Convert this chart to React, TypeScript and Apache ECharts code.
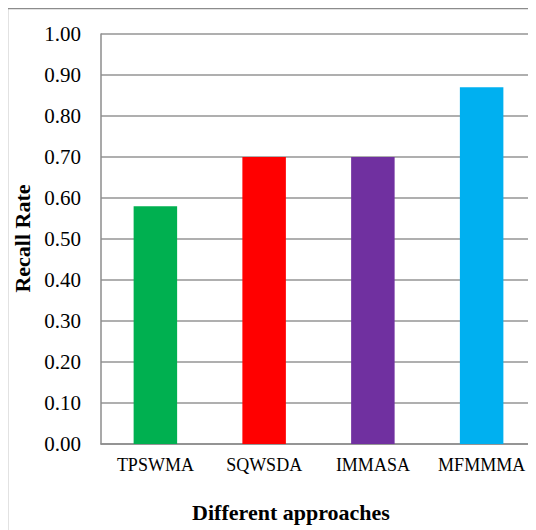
import React, { useEffect, useRef } from "react";
import * as echarts from "echarts";

const categories = ["TPSWMA", "SQWSDA", "IMMASA", "MFMMMA"];
const recallRates = [0.58, 0.70, 0.70, 0.87];
const barColors = ["#00B050", "#FF0000", "#7030A0", "#00B0F0"];
const yAxisTitle = "Recall Rate";
const xAxisTitle = "Different approaches";

const FONT = "Liberation Serif";

export default function App() {
  const ref = useRef<HTMLDivElement>(null);

  useEffect(() => {
    if (!ref.current) return;
    const chart = echarts.init(ref.current, null, { renderer: "svg" });
    chart.setOption({
      animation: false,
      backgroundColor: "#ffffff",
      textStyle: { fontFamily: FONT },
      grid: { left: 94, top: 26, width: 442, height: 410, containLabel: false },
      xAxis: {
        type: "category",
        data: categories,
        axisLine: { show: true, lineStyle: { color: "#8c8c8c", width: 1.5 } },
        axisTick: { show: false },
        axisLabel: {
          interval: 0,
          color: "#000",
          fontFamily: FONT,
          fontSize: 18,
          margin: 12,
        },
        splitLine: { show: false },
      },
      yAxis: {
        type: "value",
        min: 0,
        max: 1,
        interval: 0.1,
        axisLine: { show: true, lineStyle: { color: "#8c8c8c", width: 1.5 } },
        axisTick: { show: false },
        axisLabel: {
          color: "#000",
          fontFamily: FONT,
          fontSize: 21,
          margin: 20,
          formatter: (v: number) => v.toFixed(2),
        },
        splitLine: { show: true, lineStyle: { color: "#949494", width: 1.5 } },
      },
      series: [
        {
          type: "bar",
          data: recallRates.map((v, i) => ({ value: v, itemStyle: { color: barColors[i] } })),
          barCategoryGap: "60%",
        },
      ],
      graphic: [
        {
          type: "rect",
          silent: true,
          z: -1,
          shape: { x: 0.5, y: 0.5, width: 1000, height: 1000 },
          style: { fill: "none", stroke: "#8c8c8c", lineWidth: 1.5 },
        },
        {
          type: "text",
          x: 284,
          y: 504,
          style: {
            text: xAxisTitle,
            fontFamily: FONT,
            fontSize: 22,
            fontWeight: "bold",
            fill: "#000",
            textAlign: "center",
            textVerticalAlign: "middle",
          },
        },
        {
          type: "text",
          x: 15,
          y: 230.5,
          rotation: Math.PI / 2,
          style: {
            text: yAxisTitle,
            fontFamily: FONT,
            fontSize: 22,
            fontWeight: "bold",
            fill: "#000",
            textAlign: "center",
            textVerticalAlign: "middle",
          },
        },
      ],
    });
    return () => chart.dispose();
  }, []);

  return (
    <div
      ref={ref}
      style={{ width: 529, height: 522, marginLeft: -1, overflow: "hidden" }}
    />
  );
}
